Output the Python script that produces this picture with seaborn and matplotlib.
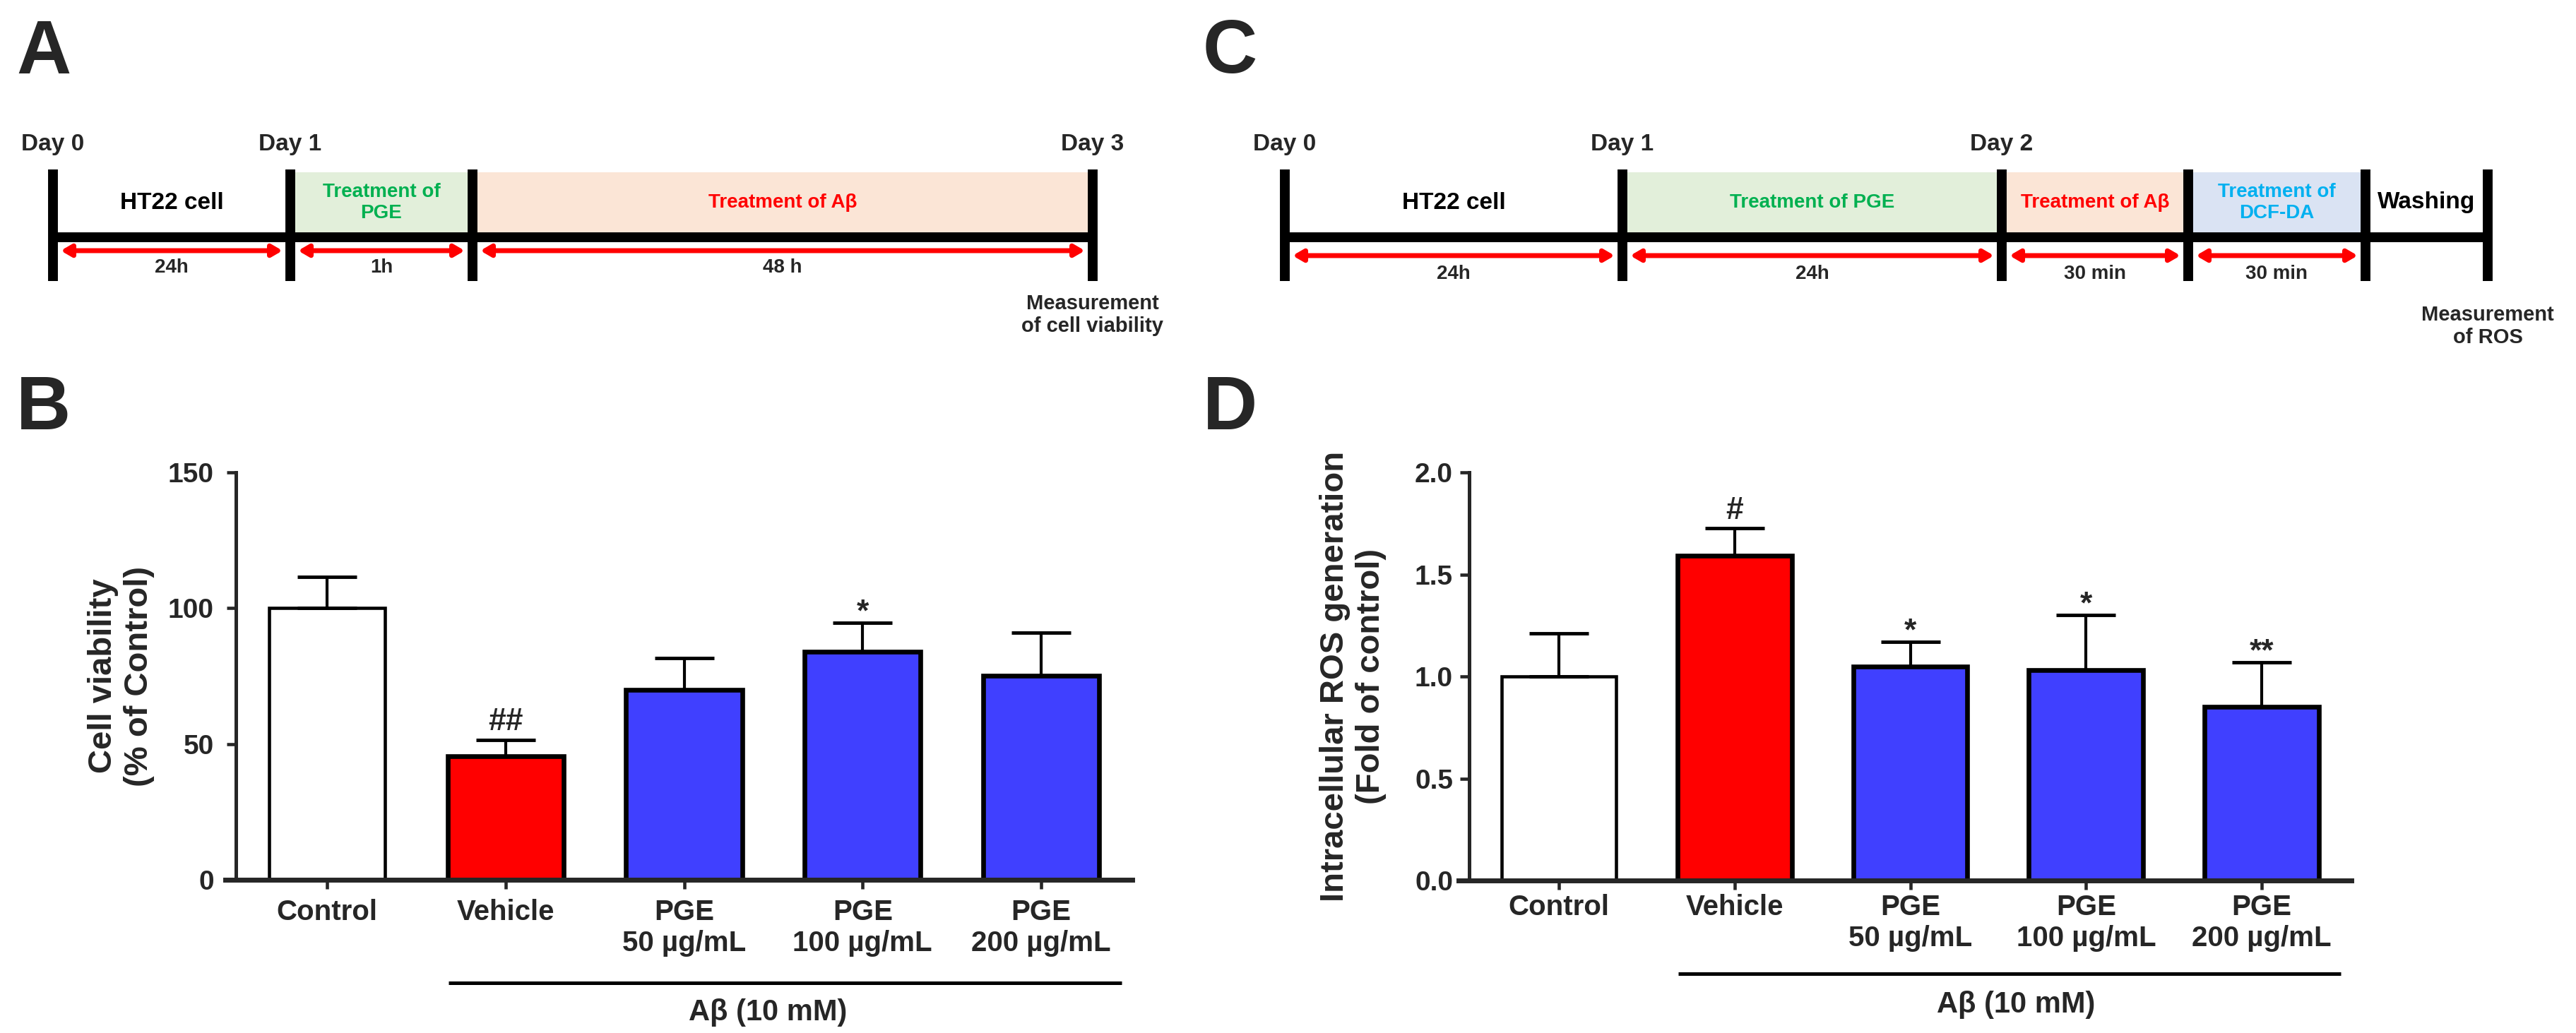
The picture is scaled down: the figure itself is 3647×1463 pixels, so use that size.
import numpy as np
import matplotlib
matplotlib.use("Agg")
import matplotlib.pyplot as plt
import matplotlib.transforms as mtransforms
from matplotlib.patches import Rectangle
import seaborn as sns

W, H = 3648, 1463

# bar chart data (B and D)
groups = ["Control", "Vehicle", "PGE\n50 µg/mL", "PGE\n100 µg/mL", "PGE\n200 µg/mL"]
bar_colors = ["#FFFFFF", "#FF0000", "#4040FF", "#4040FF", "#4040FF"]

viability_mean = [100, 45.5, 70, 84, 75]
viability_sd = [11.5, 6, 11.5, 10.5, 16]
viability_marks = ["", "##", "", "*", ""]

ros_mean = [1.0, 1.59, 1.05, 1.03, 0.85]
ros_sd = [0.21, 0.135, 0.12, 0.27, 0.22]
ros_marks = ["", "#", "*", "*", "**"]

# timeline A
a_days = ["Day 0", "Day 1", "", "Day 3"]
a_steps = ["HT22 cell", "Treatment of\nPGE", "Treatment of Aβ"]
a_fills = [None, "#E2EFDA", "#FBE5D6"]
a_text_colors = ["black", "#00B050", "#FF0000"]
a_times = ["24h", "1h", "48 h"]
a_note = "Measurement\nof cell viability"

# timeline C
c_days = ["Day 0", "Day 1", "Day 2", "", "", ""]
c_steps = ["HT22 cell", "Treatment of PGE", "Treatment of Aβ", "Treatment of\nDCF-DA", "Washing"]
c_fills = [None, "#E2EFDA", "#FBE5D6", "#DAE3F3", None]
c_text_colors = ["black", "#00B050", "#FF0000", "#00B0F0", "black"]
c_times = ["24h", "24h", "30 min", "30 min", ""]
c_note = "Measurement\nof ROS"

sns.set_style("ticks")
plt.rcParams["font.family"] = ["Liberation Sans", "DejaVu Sans"]
plt.rcParams["font.weight"] = "bold"
plt.rcParams["axes.labelweight"] = "bold"

fig = plt.figure(figsize=(W / 100, H / 100), dpi=100)

# overlay in pixel units for the schematic timelines and panel letters
tl = fig.add_axes([0, 0, 1, 1])
tl.set_xlim(0, W)
tl.set_ylim(H, 0)
tl.axis("off")


def timeline(ax, edges, days, steps, fills, colors, times, note, arrow_y, time_y, note_y):
    for x0, x1, fc in zip(edges[:-1], edges[1:], fills):
        if fc:
            ax.add_patch(Rectangle((x0, 244), x1 - x0, 85, facecolor=fc, edgecolor="none"))
    ax.plot([edges[0], edges[-1]], [336, 336], color="black", lw=10, solid_capstyle="butt")
    for x in edges:
        ax.plot([x, x], [240, 398], color="black", lw=10, solid_capstyle="butt")
    for x, d in zip(edges, days):
        if d:
            ax.text(x, 205, d, ha="center", va="center", fontsize=24)
    for x0, x1, s, c in zip(edges[:-1], edges[1:], steps, colors):
        fs = 24 if c == "black" else 20
        ax.text((x0 + x1) / 2, 287, s, color=c, ha="center", va="center",
                fontsize=fs, linespacing=1.2)
    for x0, x1, t in zip(edges[:-1], edges[1:], times):
        if not t:
            continue
        ax.annotate("", xy=(x1 - 11, arrow_y), xytext=(x0 + 11, arrow_y),
                    arrowprops=dict(arrowstyle="<|-|>,head_length=0.6,head_width=0.35",
                                    color="red", lw=5, mutation_scale=14,
                                    shrinkA=0, shrinkB=0))
        ax.text((x0 + x1) / 2, time_y, t, ha="center", va="center", fontsize=20)
    ax.text(edges[-1], note_y, note, ha="center", va="center", fontsize=21, linespacing=1.2)


timeline(tl, [75, 411, 669, 1547], a_days, a_steps, a_fills, a_text_colors,
         a_times, a_note, 355, 379, 446)
timeline(tl, [1819, 2297, 2834, 3098, 3349, 3522], c_days, c_steps, c_fills,
         c_text_colors, c_times, c_note, 362, 388, 462)

for letter, x, y in [("A", 23, 104), ("C", 1703, 103), ("B", 23, 608), ("D", 1703, 608)]:
    tl.text(x, y, letter, ha="left", va="baseline", fontsize=77, fontweight="bold")


def bar_panel(ax, means, sds, marks, ymax, yticks, fmt, ylabel, label_x,
              ytick_pad, xtick_pad, line_y, note_x, note_y):
    sns.barplot(x=groups, y=means, hue=groups, order=groups, hue_order=groups,
                palette=bar_colors, saturation=1, width=0.65, edgecolor="black",
                linewidth=3.3, legend=False, ax=ax)
    for p, c in zip(ax.patches, bar_colors):
        if c != "#FFFFFF":
            p.set_linewidth(4.8)
    x = np.arange(len(groups))
    ax.errorbar(x, means, yerr=[np.zeros(len(means)), sds], fmt="none", ecolor="black",
                elinewidth=3, capsize=30, capthick=3.5, zorder=3)
    for i, m in enumerate(marks):
        if m:
            pad = 10 if "#" in m else 2
            ax.annotate(m, xy=(i, means[i] + sds[i]), xytext=(0, pad),
                        textcoords="offset points", ha="center", va="baseline",
                        fontsize=32, fontweight="bold")
    ax.set_xlim(-0.51, 4.51)
    ax.set_ylim(0, ymax)
    ax.set_yticks(yticks)
    ax.set_yticklabels([fmt.format(v) for v in yticks])
    ax.set_xlabel("")
    sns.despine(ax=ax)
    ax.spines["left"].set_linewidth(3.6)
    ax.spines["bottom"].set_linewidth(5)
    ax.spines["bottom"].set_bounds(-0.57, 4.51)
    ax.tick_params(axis="y", length=9.5, width=3.3, labelsize=28, pad=ytick_pad)
    ax.tick_params(axis="x", length=9.5, width=3.3, labelsize=29, pad=xtick_pad)
    for lab in ax.get_xticklabels() + ax.get_yticklabels():
        lab.set_fontweight("bold")
    ax.set_ylabel(ylabel, fontsize=34, fontweight="bold", linespacing=1.2)
    ax.yaxis.set_label_coords(label_x, 0.5)
    trans = mtransforms.blended_transform_factory(ax.transData, ax.transAxes)
    ax.plot([0.68, 4.45], [line_y, line_y], transform=trans, color="black",
            lw=3.6, clip_on=False, solid_capstyle="butt")
    ax.text(note_x, note_y, "Aβ (10 mM)", transform=trans, ha="center", va="center",
            fontsize=30, fontweight="bold")


ax_b = fig.add_axes([0.09156, 0.14833, 0.34786, 0.39440])
bar_panel(ax_b, viability_mean, viability_sd, viability_marks, 150, [0, 50, 100, 150],
          "{:.0f}", "Cell viability\n(% of Control)", -0.0906, 13, 10, -0.253, 2.47, -0.326)

ax_d = fig.add_axes([0.57018, 0.14764, 0.34238, 0.39508])
bar_panel(ax_d, ros_mean, ros_sd, ros_marks, 2.0, [0, 0.5, 1.0, 1.5, 2.0],
          "{:.1f}", "Intracellular ROS generation\n(Fold of control)", -0.0937, 7, 4,
          -0.228, 2.6, -0.305)

fig.savefig("out.png", dpi=100)
